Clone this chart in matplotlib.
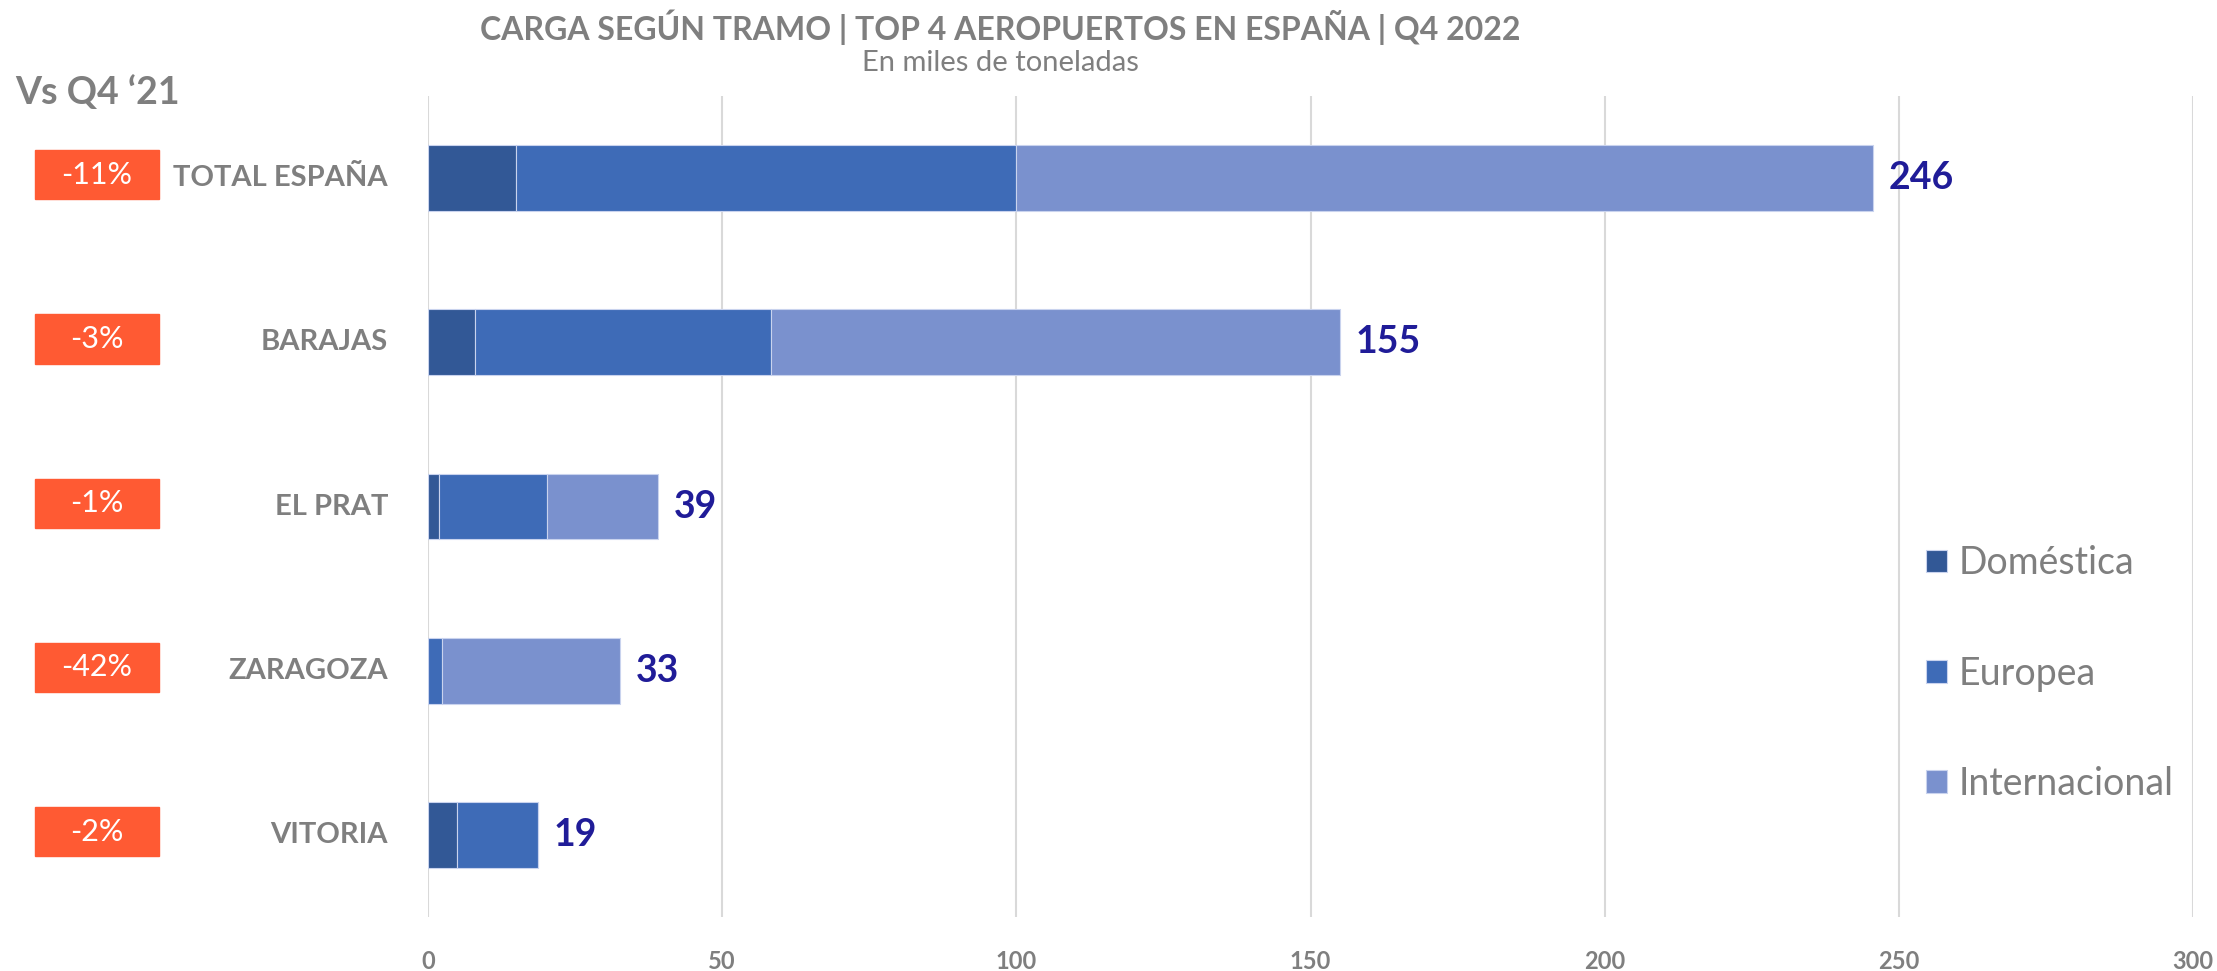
import matplotlib.pyplot as plt
from matplotlib.patches import Rectangle
from matplotlib.transforms import blended_transform_factory

# data (miles de toneladas)
airports = ["TOTAL ESPAÑA", "BARAJAS", "EL PRAT", "ZARAGOZA", "VITORIA"]
domestica = [15.0, 8.0, 1.9, 0.0, 5.0]
europea = [85.0, 50.3, 18.4, 2.4, 13.7]
internacional = [145.6, 96.7, 18.8, 30.3, 0.0]
totals = [246, 155, 39, 33, 19]
vs_q4_21 = ["-11%", "-3%", "-1%", "-42%", "-2%"]
series_names = ["Doméstica", "Europea", "Internacional"]

GRAY = "#7F7F7F"
COLORS = ["#325896", "#3E6BB7", "#7A91CE"]
BADGE = "#FF5A33"
NAVY = "#201C98"


def main() -> None:
    plt.rcParams["font.family"] = ["Lato", "DejaVu Sans"]
    W, H = 2217, 971
    fig = plt.figure(figsize=(W / 100, H / 100), dpi=100)
    ax = fig.add_axes([428 / W, 1 - 917 / H, (2193 - 428) / W, (917 - 96) / H])

    ypos = list(range(len(airports)))
    left = [0.0] * len(airports)
    for vals, name, col in zip([domestica, europea, internacional], series_names, COLORS):
        ax.barh(ypos, vals, left=left, height=0.4, color=col, label=name,
                edgecolor="#C9D3EE", linewidth=0.8, zorder=3)
        left = [l + v for l, v in zip(left, vals)]

    for y, x, t in zip(ypos, left, totals):
        ax.text(x + 2.6, y, str(t), va="center", ha="left", fontsize=27,
                fontweight="bold", color=NAVY)

    ax.set_xlim(0, 300)
    ax.set_ylim(len(airports) - 0.5, -0.5)
    ax.set_xticks(range(0, 301, 50))
    ax.set_yticks([])
    ax.grid(axis="x", color="#D9D9D9", linewidth=1.5, zorder=0)
    for s in ax.spines.values():
        s.set_visible(False)
    ax.tick_params(axis="x", length=0, pad=24, labelsize=17, labelcolor=GRAY)
    for lbl in ax.get_xticklabels():
        lbl.set_fontweight("bold")

    # category labels and yearly change badges on the left
    tr = blended_transform_factory(fig.transFigure, ax.transData)
    bw, bh = 124 / W, 0.30
    for y, name, chg in zip(ypos, airports, vs_q4_21):
        ax.text(388 / W, y, name, transform=tr, ha="right", va="center",
                fontsize=21, fontweight="bold", color=GRAY)
        ax.add_patch(Rectangle((35 / W, y - bh / 2 - 0.02), bw, bh, transform=tr,
                               color=BADGE, clip_on=False))
        ax.text(35 / W + bw / 2, y - 0.02, chg, transform=tr, ha="center", va="center",
                fontsize=22, color="white")

    fig.text(1000 / W, 1 - 27 / H, "CARGA SEGÚN TRAMO | TOP 4 AEROPUERTOS EN ESPAÑA | Q4 2022",
             ha="center", va="center", fontsize=23, fontweight="bold", color=GRAY)
    fig.text(1000 / W, 1 - 63 / H, "En miles de toneladas", ha="center", va="center",
             fontsize=21, color=GRAY)
    fig.text(15 / W, 1 - 93 / H, "Vs Q4 \u201821", ha="left", va="center",
             fontsize=27, fontweight="bold", color=GRAY)

    leg = ax.legend(loc="center left", bbox_to_anchor=(1926 / W, 1 - 673.5 / H),
                    bbox_transform=fig.transFigure, frameon=False, fontsize=27,
                    handlelength=0.56, handleheight=0.56, handletextpad=0.3,
                    labelspacing=1.98, borderpad=0, borderaxespad=0)
    for t in leg.get_texts():
        t.set_color(GRAY)

    fig.savefig("out.png", dpi=100)


if __name__ == "__main__":
    main()
